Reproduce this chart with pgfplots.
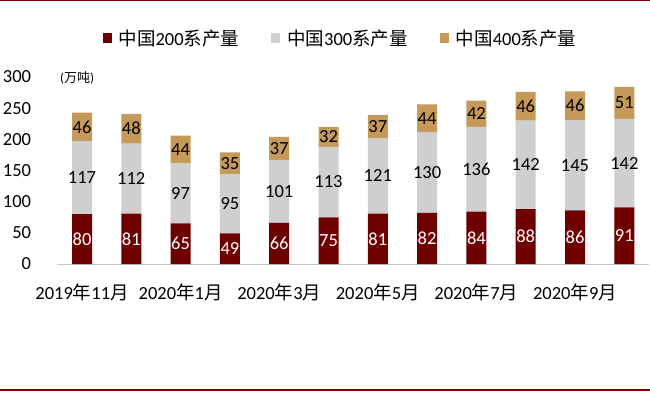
\documentclass[border=0pt]{standalone}
\usepackage{fontspec}
\setmainfont{Carlito}
\newfontfamily\cjk{Noto Sans CJK SC}
\usepackage{pgfplots}
\usepackage{pgfplotstable}
\pgfplotsset{compat=1.18}
\definecolor{cA}{RGB}{110,0,0}
\definecolor{cB}{RGB}{208,207,208}
\definecolor{cC}{RGB}{196,153,90}
\definecolor{cLine}{RGB}{125,0,0}
\pgfplotstableread{
x a b c
0 80 117 46
1 81 112 48
2 65 97 44
3 49 95 35
4 66 101 37
5 75 113 32
6 81 121 37
7 82 130 44
8 84 136 42
9 88 142 46
10 86 145 46
11 91 142 51
}\data
\newcommand{\fs}{\fontsize{18.5bp}{22bp}\selectfont}
\begin{document}
\begin{tikzpicture}[x=1bp,y=1bp]
\useasboundingbox (0,0) rectangle (650,392);
\fill[white] (0,0) rectangle (650,392);
\draw[cLine, line width=1.5bp] (0,391.3) -- (650,391.3);
\draw[cLine, line width=1.5bp] (0,2) -- (650,2);
\pgfplotsset{
  base/.style={
    scale only axis, width=591.6bp, height=187bp,
    xmin=-0.5, xmax=11.5, ymin=0, ymax=300,
    at={(57.35bp,128bp)}, anchor=south west,
  }
}
\begin{axis}[base, ybar stacked, bar width=20bp,
  axis x line=bottom, axis y line=left,
  x axis line style={draw=black!22, -, line width=0.8bp},
  y axis line style={draw=none},
  tick style={draw=none},
  xtick={0,2,4,6,8,10},
  xticklabels={2019{\cjk 年}11{\cjk 月},2020{\cjk 年}1{\cjk 月},2020{\cjk 年}3{\cjk 月},2020{\cjk 年}5{\cjk 月},2020{\cjk 年}7{\cjk 月},2020{\cjk 年}9{\cjk 月}},
  ytick={0,50,100,150,200,250,300},
  /pgf/number format/assume math mode=true,
  yticklabel style={anchor=east, inner sep=0pt, xshift=-24bp, font=\fs},
  xticklabel style={anchor=north, inner sep=0pt, yshift=-18bp, font=\fs},
  legend columns=3,
  legend style={at={(0.4786,1.2086)}, anchor=center, draw=none, fill=none, font=\fs,
    /tikz/every odd column/.style={column sep=5bp},
    /tikz/every even column/.style={column sep=30bp}},
  legend image code/.code={\fill[#1, draw=none] (0bp,-5bp) rectangle (9bp,5bp);},
]
\addplot[fill=cA, draw=none] table[x=x, y=a] {\data};
\addlegendentry{{\cjk 中国}200{\cjk 系产量}}
\addplot[fill=cB, draw=none] table[x=x, y=b] {\data};
\addlegendentry{{\cjk 中国}300{\cjk 系产量}}
\addplot[fill=cC, draw=none] table[x=x, y=c] {\data};
\addlegendentry{{\cjk 中国}400{\cjk 系产量}}
\end{axis}
\begin{axis}[base, hide axis,
  /pgf/number format/assume math mode=true,
  nodes near coords, point meta=explicit,
  every node near coord/.style={anchor=center, font=\fs, inner sep=0pt},
]
\addplot[draw=none, mark=none, every node near coord/.append style={text=white}] table[x=x, y expr=\thisrow{a}/2, meta=a] {\data};
\addplot[draw=none, mark=none, every node near coord/.append style={text=black}] table[x=x, y expr=\thisrow{a}+\thisrow{b}/2, meta=b] {\data};
\addplot[draw=none, mark=none, every node near coord/.append style={text=black}] table[x=x, y expr=\thisrow{a}+\thisrow{b}+\thisrow{c}/2, meta=c] {\data};
\end{axis}
\node[font=\fontsize{13bp}{15bp}\selectfont, inner sep=0pt] at (77,314) {({\cjk 万吨})};
\end{tikzpicture}
\end{document}
